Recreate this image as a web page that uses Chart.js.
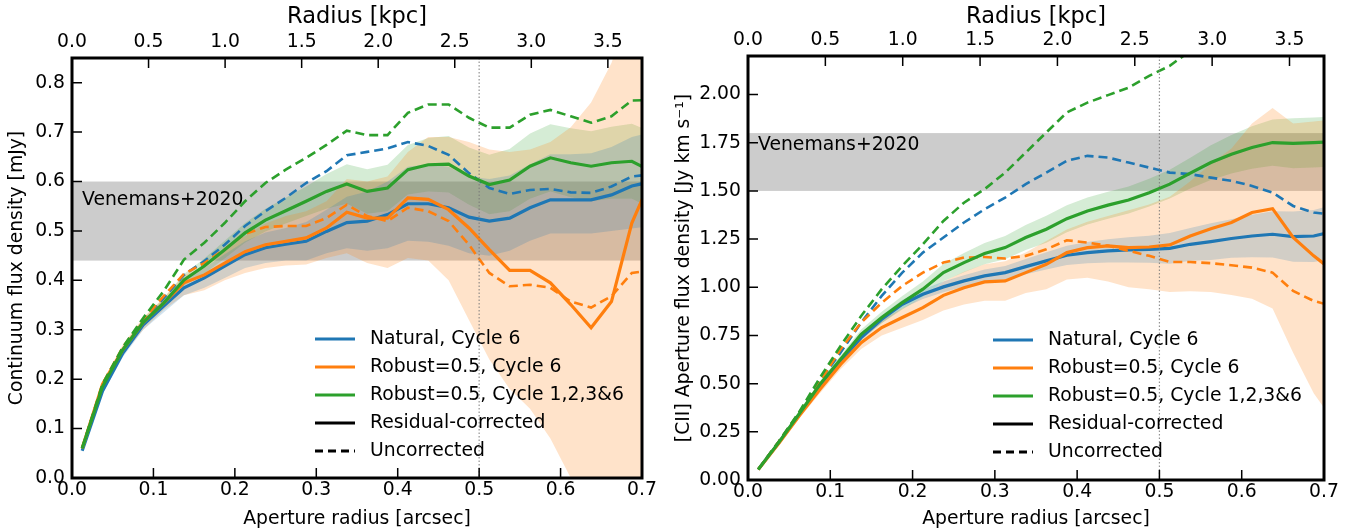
<!DOCTYPE html>
<html>
<head>
<meta charset="utf-8">
<script src="https://cdn.jsdelivr.net/npm/chart.js@4.4.1/dist/chart.umd.min.js"></script>
<style>
  html, body { margin: 0; padding: 0; background: #fff; }
  #wrap { position: relative; width: 1353px; height: 531px; overflow: hidden; }
  .panel { position: absolute; top: 0; height: 531px; }
</style>
</head>
<body>
<div id="wrap">
  <div class="panel" style="left:0;width:668px"><canvas id="contChart" width="668" height="531"></canvas></div>
  <div class="panel" style="left:668px;width:685px"><canvas id="ciiChart" width="685" height="531"></canvas></div>
</div>
<script>
// aperture radii [arcsec]
const apertureRadius = [0.0125,0.0375,0.0625,0.0875,0.1125,0.1375,0.1625,0.1875,0.2125,0.2375,
  0.2625,0.2875,0.3125,0.3375,0.3625,0.3875,0.4125,0.4375,0.4625,0.4875,
  0.5125,0.5375,0.5625,0.5875,0.6125,0.6375,0.6625,0.6875,0.7125];

// left panel: continuum flux density [mJy]
const contNatCorr = [0.055,0.176,0.253,0.310,0.348,0.385,0.405,0.429,0.452,0.466,0.473,0.479,0.499,0.517,0.520,0.533,0.555,0.555,0.547,0.528,0.520,0.526,0.547,0.563,0.563,0.563,0.573,0.591,0.600];
const contNatUnc  = [0.060,0.185,0.260,0.315,0.364,0.411,0.439,0.472,0.510,0.540,0.567,0.597,0.621,0.653,0.660,0.667,0.680,0.672,0.654,0.617,0.587,0.575,0.583,0.585,0.578,0.577,0.590,0.610,0.615];
const contRobCorr = [0.060,0.190,0.260,0.315,0.354,0.395,0.411,0.435,0.458,0.472,0.479,0.486,0.506,0.538,0.526,0.526,0.567,0.564,0.543,0.506,0.462,0.420,0.420,0.395,0.351,0.304,0.357,0.516,0.610];
const contRobUnc  = [0.060,0.190,0.265,0.320,0.368,0.413,0.435,0.463,0.494,0.508,0.510,0.510,0.526,0.553,0.530,0.520,0.547,0.540,0.520,0.472,0.415,0.388,0.391,0.385,0.357,0.345,0.368,0.415,0.420];
const contAllCorr = [0.060,0.185,0.260,0.315,0.354,0.401,0.429,0.462,0.496,0.522,0.541,0.560,0.580,0.595,0.580,0.587,0.624,0.634,0.635,0.611,0.594,0.603,0.631,0.648,0.638,0.631,0.638,0.641,0.620];
const contAllUnc  = [0.060,0.190,0.265,0.324,0.378,0.442,0.476,0.516,0.560,0.597,0.624,0.648,0.674,0.703,0.694,0.694,0.739,0.756,0.756,0.729,0.709,0.709,0.735,0.745,0.732,0.719,0.732,0.764,0.765];
const contNatLo = [0.052,0.170,0.245,0.300,0.335,0.370,0.385,0.405,0.425,0.435,0.440,0.440,0.455,0.465,0.460,0.465,0.480,0.478,0.470,0.455,0.450,0.460,0.480,0.495,0.495,0.495,0.500,0.505,0.510];
const contNatHi = [0.058,0.182,0.261,0.320,0.361,0.400,0.425,0.453,0.479,0.497,0.506,0.518,0.543,0.569,0.580,0.600,0.630,0.635,0.630,0.610,0.605,0.612,0.635,0.655,0.655,0.657,0.670,0.690,0.700];
const contRobLo = [0.055,0.180,0.250,0.300,0.340,0.370,0.380,0.400,0.415,0.425,0.430,0.432,0.445,0.455,0.435,0.425,0.445,0.440,0.400,0.320,0.240,0.180,0.140,0.080,0.000,-0.100,-0.200,-0.300,-0.400];
const contRobHi = [0.065,0.195,0.270,0.325,0.365,0.410,0.430,0.460,0.490,0.515,0.530,0.540,0.560,0.605,0.600,0.610,0.660,0.690,0.690,0.680,0.665,0.660,0.665,0.680,0.710,0.760,0.840,0.960,1.100];
const contAllLo = [0.057,0.180,0.253,0.307,0.344,0.389,0.414,0.444,0.476,0.499,0.515,0.530,0.545,0.555,0.535,0.540,0.574,0.580,0.578,0.553,0.534,0.540,0.565,0.580,0.568,0.560,0.565,0.565,0.545];
const contAllHi = [0.063,0.190,0.267,0.323,0.364,0.413,0.444,0.480,0.516,0.545,0.567,0.590,0.615,0.635,0.625,0.634,0.674,0.688,0.692,0.669,0.654,0.666,0.697,0.716,0.708,0.702,0.711,0.717,0.700];

// right panel: [CII] aperture flux density [Jy km/s]
const ciiNatCorr = [0.055,0.194,0.340,0.488,0.618,0.739,0.834,0.912,0.964,1.002,1.033,1.059,1.076,1.107,1.137,1.166,1.180,1.189,1.194,1.197,1.202,1.223,1.237,1.253,1.266,1.275,1.263,1.266,1.290];
const ciiNatUnc  = [0.055,0.200,0.350,0.514,0.661,0.817,0.955,1.076,1.180,1.258,1.336,1.405,1.465,1.535,1.595,1.656,1.682,1.673,1.647,1.621,1.595,1.587,1.569,1.552,1.526,1.491,1.422,1.388,1.375];
const ciiRobCorr = [0.055,0.190,0.335,0.471,0.600,0.713,0.791,0.843,0.894,0.958,0.998,1.028,1.033,1.076,1.119,1.180,1.206,1.215,1.206,1.209,1.220,1.266,1.304,1.336,1.388,1.408,1.258,1.163,1.080];
const ciiRobUnc  = [0.055,0.200,0.350,0.510,0.678,0.817,0.920,1.007,1.076,1.128,1.154,1.157,1.149,1.163,1.197,1.244,1.232,1.215,1.189,1.163,1.131,1.131,1.125,1.114,1.102,1.076,0.981,0.929,0.900];
const ciiAllCorr = [0.055,0.195,0.345,0.497,0.626,0.756,0.843,0.920,0.990,1.076,1.128,1.175,1.206,1.258,1.301,1.356,1.396,1.426,1.453,1.491,1.535,1.592,1.647,1.690,1.725,1.751,1.747,1.751,1.756];
const ciiAllUnc  = [0.055,0.200,0.355,0.531,0.696,0.851,0.990,1.111,1.223,1.344,1.439,1.509,1.595,1.699,1.803,1.907,1.958,1.997,2.036,2.097,2.149,2.227,2.310,2.380,2.450,2.500,2.550,2.600,2.650];
const ciiNatLo = [0.052,0.189,0.332,0.478,0.606,0.724,0.814,0.890,0.939,0.974,1.003,1.026,1.041,1.067,1.092,1.116,1.125,1.129,1.129,1.127,1.122,1.138,1.142,1.153,1.156,1.155,1.133,1.131,1.150];
const ciiNatHi = [0.058,0.199,0.348,0.498,0.630,0.754,0.854,0.934,0.989,1.030,1.063,1.092,1.111,1.147,1.182,1.216,1.235,1.249,1.259,1.267,1.282,1.308,1.332,1.353,1.376,1.395,1.393,1.401,1.430];
const ciiRobLo = [0.050,0.180,0.320,0.450,0.575,0.680,0.750,0.790,0.830,0.880,0.910,0.930,0.930,0.970,0.990,1.040,1.050,1.030,1.000,0.990,0.975,0.980,0.975,0.960,0.940,0.890,0.660,0.450,0.300];
const ciiRobHi = [0.060,0.200,0.350,0.495,0.625,0.745,0.830,0.890,0.950,1.030,1.080,1.120,1.135,1.180,1.240,1.300,1.340,1.370,1.400,1.430,1.470,1.550,1.640,1.720,1.850,1.930,1.850,1.860,1.870];
const ciiAllLo = [0.052,0.190,0.335,0.482,0.606,0.731,0.813,0.885,0.950,1.031,1.078,1.120,1.146,1.193,1.231,1.286,1.326,1.356,1.383,1.419,1.460,1.512,1.557,1.590,1.615,1.631,1.617,1.621,1.626];
const ciiAllHi = [0.058,0.200,0.355,0.512,0.646,0.781,0.873,0.955,1.030,1.121,1.178,1.230,1.266,1.323,1.371,1.426,1.466,1.496,1.523,1.563,1.610,1.672,1.737,1.790,1.835,1.871,1.877,1.881,1.886];

// reference values
const contVenemans = [0.44, 0.60];
const ciiVenemans = [1.50, 1.80];
const beamRadius = 0.5;          // arcsec, dotted line
const kpcAtMaxRadius = 3.723;    // 0.7 arcsec in kpc

// tick labels
const xTickValues = [0, 0.1, 0.2, 0.3, 0.4, 0.5, 0.6, 0.7];
const kpcTickValues = [0, 0.5, 1.0, 1.5, 2.0, 2.5, 3.0, 3.5];
const contTickValues = [0, 0.1, 0.2, 0.3, 0.4, 0.5, 0.6, 0.7, 0.8];
const ciiTickValues = [0, 0.25, 0.5, 0.75, 1.0, 1.25, 1.5, 1.75, 2.0];

const legendLabels = ['Natural, Cycle 6', 'Robust=0.5, Cycle 6', 'Robust=0.5, Cycle 1,2,3&6', 'Residual-corrected', 'Uncorrected'];

const BLUE = '#1f77b4', ORANGE = '#ff7f0e', GREEN = '#2ca02c';
const legendColors = [BLUE, ORANGE, GREEN, '#000', '#000'];
const FONT = 'DejaVu Sans';
const FS = 18.8;

const pts = ys => ys.map((y, i) => ({ x: apertureRadius[i], y: y }));

function lineSet(values, color, dashed, order) {
    return {
        data: pts(values), borderColor: color,
        borderWidth: dashed ? 2.6 : 3.2, borderDash: dashed ? [9, 5] : [],
        pointRadius: 0, fill: false, tension: 0, order: order
    };
}

function bandSets(lo, hi, rgba) {
    return [
        { data: pts(lo), borderWidth: 0, pointRadius: 0, fill: false, order: 5 },
        { data: pts(hi), borderWidth: 0, pointRadius: 0, fill: '-1', backgroundColor: rgba, order: 5 }
    ];
}

// gray band, dotted line, frame, inward ticks, legend
const panelDecor = {
    id: 'panelDecor',
    beforeDatasetsDraw(chart, args, o) {
        const { ctx, chartArea: a, scales: { y } } = chart;
        const yTop = y.getPixelForValue(o.band[1]);
        const yBot = y.getPixelForValue(o.band[0]);
        ctx.save();
        ctx.fillStyle = 'rgba(128,128,128,0.4)';
        ctx.fillRect(a.left, yTop, a.right - a.left, yBot - yTop);
        ctx.restore();
    },
    afterDatasetsDraw(chart, args, o) {
        const { ctx, chartArea: a, scales: { x, xTop, y } } = chart;
        ctx.save();
        // beam line
        const bx = x.getPixelForValue(beamRadius);
        ctx.strokeStyle = 'rgba(120,120,120,0.8)';
        ctx.lineWidth = 1.2;
        ctx.setLineDash([1.5, 2]);
        ctx.beginPath(); ctx.moveTo(bx, a.top); ctx.lineTo(bx, a.bottom); ctx.stroke();
        ctx.setLineDash([]);
        // band label
        ctx.fillStyle = '#000';
        ctx.font = FS + 'px "' + FONT + '"';
        ctx.textBaseline = 'middle';
        ctx.textAlign = 'left';
        ctx.fillText('Venemans+2020', a.left + 10, y.getPixelForValue(o.labelY));
        // ticks (inward)
        const tl = 10;
        ctx.strokeStyle = '#000';
        ctx.lineWidth = 1.5;
        ctx.beginPath();
        x.ticks.forEach(t => { const p = x.getPixelForValue(t.value); ctx.moveTo(p, a.bottom); ctx.lineTo(p, a.bottom - tl); });
        xTop.ticks.forEach(t => { const p = xTop.getPixelForValue(t.value); ctx.moveTo(p, a.top); ctx.lineTo(p, a.top + tl); });
        y.ticks.forEach(t => { const p = y.getPixelForValue(t.value); ctx.moveTo(a.left, p); ctx.lineTo(a.left + tl, p); });
        ctx.stroke();
        // frame
        ctx.lineWidth = 3;
        ctx.strokeRect(a.left, a.top, a.right - a.left, a.bottom - a.top);
        // legend
        legendLabels.forEach((label, i) => {
            const yy = a.bottom - o.legendBottom + i * 28;
            const x0 = a.left + o.legendLeft;
            ctx.strokeStyle = legendColors[i];
            ctx.lineWidth = 3.2;
            ctx.setLineDash(i === 4 ? [8, 5] : []);
            ctx.beginPath(); ctx.moveTo(x0, yy); ctx.lineTo(x0 + 40, yy); ctx.stroke();
            ctx.fillStyle = '#000';
            ctx.fillText(label, x0 + 55, yy);
        });
        ctx.restore();
    }
};

function makeChart(id, d, geom) {
    const ctx = document.getElementById(id).getContext('2d');
    const tickFont = { family: FONT, size: FS };
    return new Chart(ctx, {
        type: 'line',
        data: {
            datasets: [
                ...bandSets(d.natLo, d.natHi, 'rgba(31,119,180,0.2)'),
                ...bandSets(d.robLo, d.robHi, 'rgba(255,127,14,0.22)'),
                ...bandSets(d.allLo, d.allHi, 'rgba(44,160,44,0.2)'),
                lineSet(d.natUnc, BLUE, true, 3),
                lineSet(d.natCorr, BLUE, false, 2.5),
                lineSet(d.robUnc, ORANGE, true, 2),
                lineSet(d.robCorr, ORANGE, false, 1.5),
                lineSet(d.allUnc, GREEN, true, 1),
                lineSet(d.allCorr, GREEN, false, 0.5)
            ]
        },
        options: {
            responsive: false,
            animation: false,
            events: [],
            layout: { padding: { left: 2, right: geom.padRight, top: 0, bottom: 0 } },
            scales: {
                x: {
                    type: 'linear', position: 'bottom', min: 0, max: 0.7,
                    afterBuildTicks: s => { s.ticks = xTickValues.map(v => ({ value: v })); },
                    afterFit: s => { s.height = geom.bottomH; s.paddingLeft = 0; s.paddingRight = 0; },
                    ticks: { callback: v => v.toFixed(1), font: tickFont, color: '#000', padding: 1, autoSkip: false, maxRotation: 0 },
                    grid: { display: false, drawTicks: false },
                    border: { display: false },
                    title: { display: true, text: 'Aperture radius [arcsec]', font: tickFont, color: '#000', padding: { top: 0, bottom: 1 } }
                },
                xTop: {
                    type: 'linear', position: 'top', min: 0, max: kpcAtMaxRadius,
                    afterBuildTicks: s => { s.ticks = kpcTickValues.map(v => ({ value: v })); },
                    afterFit: s => { s.height = geom.topH; s.paddingLeft = 0; s.paddingRight = 0; },
                    ticks: { callback: v => v.toFixed(1), font: tickFont, color: '#000', padding: 5, autoSkip: false, maxRotation: 0 },
                    grid: { display: false, drawTicks: false },
                    border: { display: false },
                    title: { display: true, text: 'Radius [kpc]', font: { family: FONT, size: 22.5 }, color: '#000', padding: { top: 4, bottom: 0 } }
                },
                y: {
                    type: 'linear', position: 'left', min: 0, max: geom.yMax,
                    afterBuildTicks: s => { s.ticks = geom.yTicks.map(v => ({ value: v })); },
                    afterFit: s => { s.width = geom.yWidth; s.paddingTop = 0; s.paddingBottom = 0; },
                    ticks: { callback: v => v.toFixed(geom.yDigits), font: tickFont, color: '#000', padding: 7, autoSkip: false },
                    grid: { display: false, drawTicks: false },
                    border: { display: false },
                    title: { display: true, text: geom.yTitle, font: tickFont, color: '#000', padding: { top: geom.yTitlePad, bottom: 0 } }
                }
            },
            plugins: {
                legend: { display: false },
                tooltip: { enabled: false },
                panelDecor: { band: geom.band, labelY: geom.labelY, legendLeft: geom.legendLeft, legendBottom: geom.legendBottom }
            }
        },
        plugins: [panelDecor]
    });
}

makeChart('contChart', {
    natCorr: contNatCorr, natUnc: contNatUnc, robCorr: contRobCorr, robUnc: contRobUnc,
    allCorr: contAllCorr, allUnc: contAllUnc,
    natLo: contNatLo, natHi: contNatHi, robLo: contRobLo, robHi: contRobHi, allLo: contAllLo, allHi: contAllHi
}, {
    padRight: 26, bottomH: 53, topH: 58, yWidth: 70, yMax: 0.85, yTicks: contTickValues, yDigits: 1,
    yTitle: 'Continuum flux density [mJy]', yTitlePad: 4,
    band: contVenemans, labelY: 0.563, legendLeft: 243, legendBottom: 139
});

makeChart('ciiChart', {
    natCorr: ciiNatCorr, natUnc: ciiNatUnc, robCorr: ciiRobCorr, robUnc: ciiRobUnc,
    allCorr: ciiAllCorr, allUnc: ciiAllUnc,
    natLo: ciiNatLo, natHi: ciiNatHi, robLo: ciiRobLo, robHi: ciiRobHi, allLo: ciiAllLo, allHi: ciiAllHi
}, {
    padRight: 29, bottomH: 51, topH: 56, yWidth: 78, yMax: 2.2, yTicks: ciiTickValues, yDigits: 2,
    yTitle: '[CII] Aperture flux density [Jy km s\u207B\u00B9]', yTitlePad: 3,
    band: ciiVenemans, labelY: 1.738, legendLeft: 245, legendBottom: 140
});
</script>
</body>
</html>
